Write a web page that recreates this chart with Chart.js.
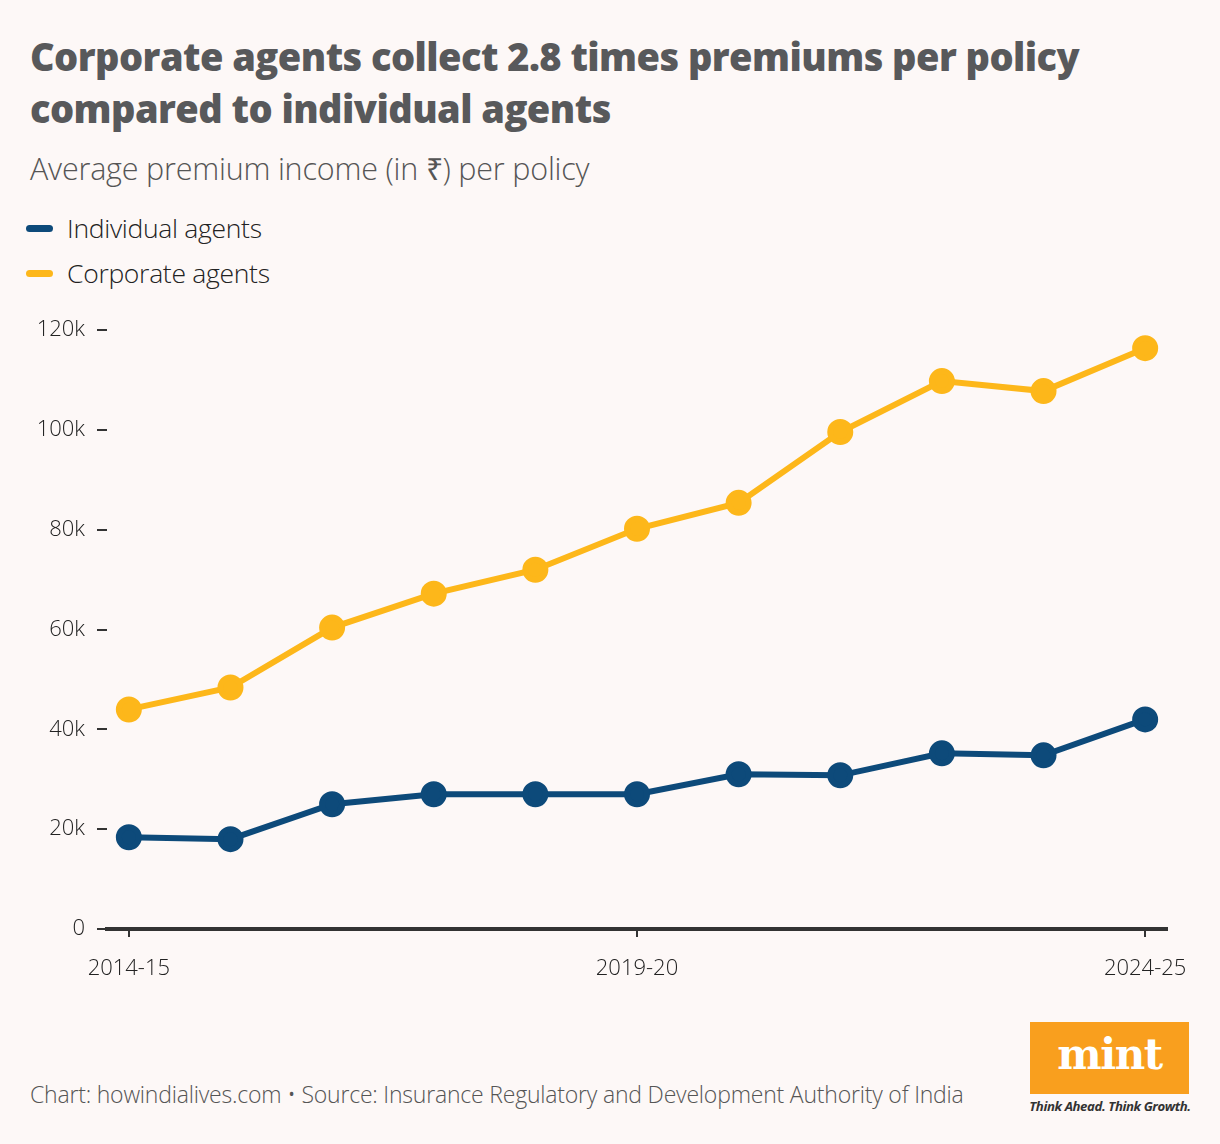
<html>
<head>
<script src="https://cdn.jsdelivr.net/npm/chart.js@4.4.1/dist/chart.umd.min.js"></script>
<style>
  body { margin: 0; background: #fdf8f7; width: 1220px; height: 1144px; position: relative; overflow: hidden; font-family: "Open Sans", sans-serif; }
  .title { position: absolute; left: 30px; top: 30px; font-size: 38px; font-weight: 800; color: #58595b; line-height: 52px; letter-spacing: -0.55px; }
  .sub { position: absolute; left: 30px; top: 147px; font-size: 30.5px; font-weight: 300; color: #555; letter-spacing: -0.2px; }
  .leg { position: absolute; left: 26px; font-size: 26.5px; font-weight: 300; color: #222; letter-spacing: -0.3px; }
  .leg span { display: inline-block; width: 27px; height: 7px; border-radius: 4px; margin-right: 14px; vertical-align: middle; position: relative; top: -2px; }
  .foot { position: absolute; left: 30px; top: 1078px; font-size: 23px; font-weight: 300; color: #555; letter-spacing: -0.2px; }
  #wrap { position: absolute; left: 0; top: 305px; width: 1220px; height: 695px; }
  .logo { position: absolute; left: 1030px; top: 1022px; width: 159px; height: 72px; background: #f99f1e; color: #fff; font-family: "DejaVu Serif", serif; font-weight: bold; font-size: 42px; text-align: center; line-height: 66px; letter-spacing: -1.5px; }
  .tag { position: absolute; left: 1029px; top: 1097px; width: 162px; font-size: 13.2px; font-style: italic; font-weight: 700; color: #333; text-align: center; letter-spacing: -0.4px; }
</style>
</head>
<body>
<div class="title">Corporate agents collect 2.8 times premiums per policy<br>compared to individual agents</div>
<div class="sub">Average premium income (in ₹) per policy</div>
<div class="leg" style="top:210px"><span style="background:#0d4a7a"></span>Individual agents</div>
<div class="leg" style="top:255px"><span style="background:#fdb71a"></span>Corporate agents</div>
<div id="wrap"><canvas id="myChart"></canvas></div>
<div class="foot">Chart: howindialives.com • Source: Insurance Regulatory and Development Authority of India</div>
<div class="logo">mint</div>
<div class="tag">Think Ahead. Think Growth.</div>
<script>
const years = ['2014-15','2015-16','2016-17','2017-18','2018-19','2019-20','2020-21','2021-22','2022-23','2023-24','2024-25'];
const individual = [18400, 18000, 25000, 27000, 27000, 27000, 31000, 30800, 35200, 34800, 42000];
const corporate = [44000, 48400, 60400, 67200, 72000, 80200, 85400, 99600, 109800, 107800, 116400];
const yTicks = [0, 20000, 40000, 60000, 80000, 100000, 120000];
const xTicks = ['2014-15', '2019-20', '2024-25'];

function pts(arr) { return arr.map((v, i) => ({ x: i, y: v })); }

const ctx = document.getElementById('myChart');
new Chart(ctx, {
  type: 'line',
  data: {
    datasets: [
      { label: 'Corporate agents', data: pts(corporate), borderColor: '#fdb71a', backgroundColor: '#fdb71a', borderWidth: 6, pointRadius: 10, pointHoverRadius: 10, clip: false },
      { label: 'Individual agents', data: pts(individual), borderColor: '#0d4a7a', backgroundColor: '#0d4a7a', borderWidth: 6, pointRadius: 10, pointHoverRadius: 10, clip: false }
    ]
  },
  options: {
    responsive: true,
    maintainAspectRatio: false,
    animation: false,
    layout: { padding: { left: 0, right: 53, top: 13, bottom: 0 } },
    plugins: { legend: { display: false }, tooltip: { enabled: false } },
    scales: {
      x: {
        type: 'linear',
        min: -0.215, max: 10.215,
        afterBuildTicks: s => { s.ticks = xTicks.map(t => ({ value: years.indexOf(t) })); },
        afterFit: s => { s.height = 71; },
        ticks: { callback: v => years[v], color: '#222', font: { family: 'Open Sans', size: 22, weight: 300 }, padding: 19, maxRotation: 0 },
        grid: { drawOnChartArea: false, drawTicks: true, tickLength: 8, color: '#333', lineWidth: 2 },
        border: { display: true, color: '#333', width: 4 }
      },
      y: {
        min: 0, max: 120000,
        afterBuildTicks: s => { s.ticks = yTicks.map(v => ({ value: v })); },
        afterFit: s => { s.width = 107; },
        ticks: { callback: v => v === 0 ? '0' : (v / 1000) + 'k', color: '#222', font: { family: 'Open Sans', size: 22, weight: 300 }, padding: 12 },
        grid: { drawOnChartArea: false, drawTicks: true, tickLength: 10, color: '#333', lineWidth: 2 },
        border: { display: false }
      }
    }
  }
});
</script>
</body>
</html>
